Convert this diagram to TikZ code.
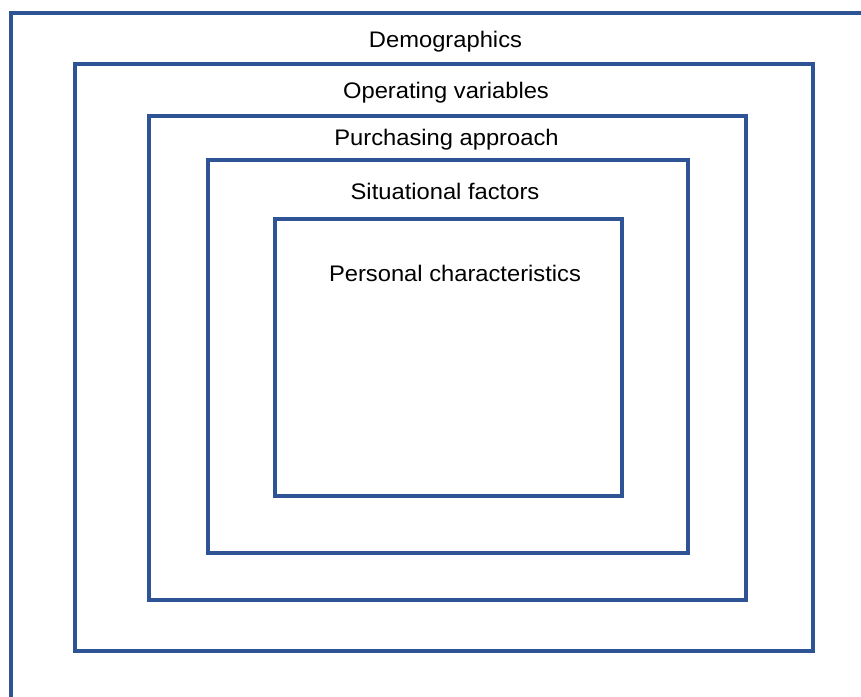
\documentclass[tikz,border=0pt]{standalone}
\usepackage{fontspec}
\setmainfont{Liberation Sans}[FakeStretch=1.055]
\definecolor{boxblue}{RGB}{47,84,150}
\begin{document}
\begin{tikzpicture}[x=1pt,y=-1pt,
  frame/.style={draw=boxblue,line width=4pt},
  lbl/.style={anchor=base,inner sep=0pt,font=\fontsize{22.5}{26}\selectfont}]
\useasboundingbox[fill=white] (0,0) rectangle (861,696);
\clip (0,0) rectangle (861,696);
\draw[frame] (11,710) -- (11,13) -- (875,13);
\draw[frame] (75,64) rectangle (813,651);
\draw[frame] (149,116) rectangle (746,600);
\draw[frame] (208,160) rectangle (688,553);
\draw[frame] (275,219) rectangle (622,496);
\node[lbl] (demo) at (445.5,47) {Demographics};
\node[lbl] (oper) at (446,98) {Operating variables};
\node[lbl] (purch) at (446.5,145) {Purchasing approach};
\node[lbl] (sit) at (445,199) {Situational factors};
\node[lbl] (pers) at (455,281) {Personal characteristics};
\end{tikzpicture}
\end{document}
